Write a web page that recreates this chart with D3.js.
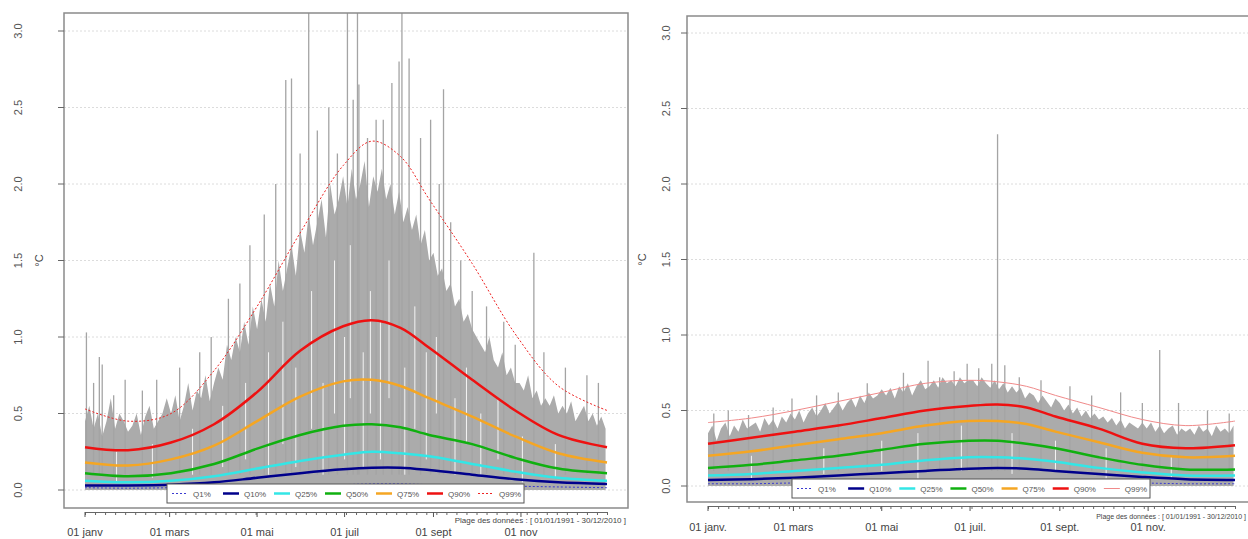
<!DOCTYPE html>
<html>
<head>
<meta charset="utf-8">
<script src="https://cdn.jsdelivr.net/npm/d3@7"></script>
<style>
  body { margin: 0; background: #fff; }
  svg { display: block; font-family: "Liberation Sans", Arial, sans-serif; }
</style>
</head>
<body>
<svg id="chart" width="1248" height="539"></svg>
<script>
// ---- data ----
// day-of-year at which the quantile curves were read
const qDays = [0, 30, 60, 90, 120, 150, 180, 200, 220, 240, 270, 300, 330, 364];

// left panel quantiles (°C)
const leftQ1  = [0.015,0.012,0.015,0.02,0.025,0.03,0.035,0.04,0.04,0.035,0.03,0.025,0.02,0.015];
const leftQ10 = [0.03,0.03,0.035,0.05,0.08,0.11,0.135,0.145,0.145,0.13,0.10,0.07,0.05,0.04];
const leftQ25 = [0.06,0.05,0.06,0.09,0.14,0.19,0.23,0.25,0.24,0.22,0.17,0.12,0.08,0.06];
const leftQ50 = [0.11,0.09,0.11,0.17,0.27,0.36,0.42,0.43,0.41,0.36,0.30,0.21,0.14,0.11];
const leftQ75 = [0.18,0.16,0.20,0.29,0.45,0.61,0.71,0.72,0.68,0.60,0.48,0.35,0.24,0.18];
const leftQ90 = [0.28,0.26,0.31,0.43,0.64,0.91,1.07,1.11,1.06,0.93,0.72,0.52,0.36,0.28];
const leftQ99 = [0.53,0.45,0.50,0.78,1.20,1.68,2.12,2.28,2.18,1.90,1.48,1.02,0.68,0.52];

// right panel quantiles (°C)
const rightQ1  = [0.015,0.015,0.02,0.02,0.025,0.03,0.03,0.035,0.03,0.03,0.025,0.02,0.015,0.015];
const rightQ10 = [0.04,0.045,0.055,0.07,0.085,0.10,0.115,0.12,0.115,0.10,0.08,0.06,0.045,0.04];
const rightQ25 = [0.07,0.08,0.10,0.12,0.14,0.17,0.19,0.19,0.18,0.16,0.12,0.09,0.07,0.07];
const rightQ50 = [0.12,0.14,0.17,0.20,0.24,0.28,0.30,0.30,0.28,0.25,0.19,0.14,0.11,0.11];
const rightQ75 = [0.20,0.23,0.27,0.31,0.35,0.40,0.43,0.43,0.41,0.36,0.29,0.22,0.19,0.20];
const rightQ90 = [0.28,0.32,0.36,0.40,0.45,0.50,0.53,0.54,0.52,0.46,0.38,0.28,0.25,0.27];
const rightQ99 = [0.42,0.45,0.50,0.56,0.62,0.68,0.70,0.69,0.66,0.60,0.52,0.44,0.40,0.43];

// daily values: dense upper envelope, one value every 3 days (day 0,3,...,363)
const leftEnvelope = [
  0.45,0.55,0.40,0.50,0.35,0.45,0.60,0.40,0.50,0.45,0.38,
  0.42,0.50,0.36,0.48,0.55,0.40,0.45,0.50,0.60,
  0.50,0.62,0.45,0.55,0.70,0.52,0.65,0.60,0.75,0.58,0.70,
  0.80,0.72,0.95,0.85,1.00,0.90,1.10,0.95,1.20,1.05,
  1.25,1.10,1.35,1.20,1.50,1.30,1.45,1.60,1.40,1.70,
  1.55,1.80,1.60,1.75,1.90,1.65,2.00,1.80,1.90,2.05,
  1.85,2.10,1.90,2.00,2.15,1.85,2.05,1.95,2.10,1.90,
  2.00,1.80,1.95,1.75,1.85,1.70,1.80,1.60,1.70,1.50,
  1.55,1.40,1.45,1.30,1.35,1.20,1.25,1.10,1.15,1.05,
  1.00,0.95,0.90,1.00,0.85,0.80,0.90,0.75,0.80,0.70,
  0.70,0.65,0.75,0.60,0.65,0.55,0.60,0.55,0.62,0.50,
  0.55,0.50,0.58,0.45,0.50,0.55,0.45,0.50,0.42,0.48,0.40
];
const rightEnvelope = [
  0.35,0.40,0.30,0.38,0.42,0.33,0.40,0.36,0.44,0.38,0.40,
  0.42,0.36,0.45,0.40,0.44,0.38,0.46,0.42,0.48,
  0.44,0.50,0.42,0.48,0.52,0.46,0.50,0.55,0.48,0.52,0.56,
  0.50,0.55,0.58,0.52,0.60,0.55,0.62,0.58,0.60,0.64,
  0.60,0.65,0.58,0.66,0.62,0.68,0.60,0.66,0.70,0.64,
  0.66,0.70,0.65,0.72,0.68,0.70,0.66,0.72,0.68,0.70,
  0.70,0.66,0.72,0.68,0.65,0.70,0.64,0.68,0.62,0.66,
  0.62,0.65,0.58,0.62,0.60,0.55,0.60,0.56,0.52,0.58,
  0.55,0.50,0.54,0.48,0.52,0.46,0.50,0.45,0.48,0.44,
  0.46,0.42,0.45,0.40,0.44,0.38,0.42,0.40,0.38,0.42,
  0.38,0.42,0.36,0.40,0.35,0.38,0.40,0.34,0.38,0.36,
  0.38,0.34,0.40,0.36,0.38,0.33,0.40,0.36,0.38,0.35,0.40
];

// isolated daily peaks [day, °C]
const leftSpikes = [[1,1.03],[6,0.70],[10,0.87],[12,0.82],[20,0.62],[28,0.72],[40,0.65],[50,0.72],
  [66,0.80],[80,0.90],[88,1.00],[100,1.25],[108,1.35],[115,1.60],[125,1.80],[133,2.00],[140,2.68],
  [144,2.69],[150,2.20],[156,3.20],[162,2.35],[170,2.50],[176,2.20],[183,3.20],[187,2.55],[190,3.20],
  [191,2.65],[197,2.30],[203,2.42],[208,2.42],[214,2.66],[219,2.80],[221,3.20],[226,2.82],[234,2.30],
  [241,2.42],[247,2.00],[250,2.62],[255,1.75],[262,1.50],[270,1.30],[280,1.20],[292,1.10],[300,0.95],
  [313,1.55],[320,0.90],[335,0.80],[350,0.75],[358,0.70]];
const rightSpikes = [[4,0.48],[14,0.50],[28,0.47],[45,0.52],[58,0.58],[75,0.60],[90,0.62],[110,0.68],
  [135,0.75],[152,0.83],[160,0.72],[170,0.76],[179,0.81],[187,0.78],[196,0.81],[200,2.33],[205,0.80],
  [215,0.72],[230,0.70],[250,0.66],[265,0.60],[285,0.62],[300,0.55],[312,0.90],[325,0.55],[345,0.50],[360,0.48]];

// light gaps inside the gray band [day, from °C, to °C]
const leftGaps = [[22,0.05,0.25],[47,0.08,0.3],[75,0.1,0.4],[96,0.15,0.55],[112,0.2,0.7],[128,0.1,0.9],
  [138,0.3,1.1],[147,0.15,0.8],[158,0.4,1.3],[166,0.1,0.7],[174,0.5,1.5],[181,0.2,1.0],[185,0.6,1.6],
  [194,0.15,0.9],[199,0.5,1.3],[206,0.2,1.1],[212,0.6,1.5],[223,0.1,0.8],[230,0.4,1.2],[238,0.2,0.9],
  [245,0.5,1.0],[258,0.1,0.6],[266,0.3,0.8],[276,0.1,0.5],[288,0.2,0.6],[305,0.05,0.35],[328,0.08,0.3]];
const rightGaps = [[30,0.05,0.2],[80,0.08,0.25],[120,0.1,0.3],[145,0.05,0.35],[175,0.1,0.4],[210,0.08,0.35],
  [240,0.1,0.3],[275,0.05,0.25],[320,0.05,0.2]];

const yTicks = [0, 0.5, 1.0, 1.5, 2.0, 2.5, 3.0];
const monthDays = [0, 59, 120, 181, 243, 304];
const leftMonthLabels = ["01 janv", "01 mars", "01 mai", "01 juil", "01 sept", "01 nov"];
const rightMonthLabels = ["01 janv.", "01 mars", "01 mai", "01 juil.", "01 sept.", "01 nov."];
const legendLabels = ["Q1%", "Q10%", "Q25%", "Q50%", "Q75%", "Q90%", "Q99%"];
const rangeNote = "Plage des données : [ 01/01/1991 - 30/12/2010 ]";

// quantile styles
const qStyle = [
  { color: "#3b3bd0", width: 1, dash: "2,2" },
  { color: "#00008b", width: 2.5, dash: null },
  { color: "#33e6e6", width: 2.5, dash: null },
  { color: "#10b010", width: 2.5, dash: null },
  { color: "#f5a623", width: 2.5, dash: null },
  { color: "#ee1111", width: 2.5, dash: null },
  { color: "#ee2222", width: 1, dash: "2,2" }
];

const svg = d3.select("#chart");

function drawPanel(p) {
  const g = svg.append("g");

  let x = d3.scaleLinear().domain([0, 364]).range(p.xRange);
  let y = d3.scaleLinear().domain([0, 3]).range(p.yRange);

  const clipId = "clip" + p.id;
  svg.append("clipPath").attr("id", clipId)
    .append("rect")
    .attr("x", p.frame.x0).attr("y", p.frame.y0)
    .attr("width", p.frame.x1 - p.frame.x0).attr("height", p.frame.y1 - p.frame.y0);

  // grid
  g.selectAll(".grid").data(yTicks).enter()
    .append("line")
    .attr("x1", p.frame.x0).attr("x2", p.frame.x1)
    .attr("y1", d => y(d)).attr("y2", d => y(d))
    .style("stroke", "#dcdcdc").style("stroke-dasharray", "2,2");

  const plot = g.append("g").attr("clip-path", `url(#${clipId})`);

  // gray daily values
  const env = p.envelope.map((v, i) => [i * 3, v]);
  plot.append("path")
    .datum(env)
    .attr("d", d3.area().x(d => x(d[0])).y0(y(0)).y1(d => y(d[1])))
    .style("fill", "#ababab");

  plot.selectAll(".spike").data(p.spikes).enter()
    .append("line")
    .attr("x1", d => x(d[0])).attr("x2", d => x(d[0]))
    .attr("y1", y(0.1)).attr("y2", d => y(d[1]))
    .style("stroke", "#a4a4a4").style("stroke-width", 1.3);

  plot.selectAll(".gap").data(p.gaps).enter()
    .append("line")
    .attr("x1", d => x(d[0])).attr("x2", d => x(d[0]))
    .attr("y1", d => y(d[1])).attr("y2", d => y(d[2]))
    .style("stroke", "#f4f4f4").style("stroke-width", 1);

  // quantile curves
  let line = d3.line().x(d => x(d[0])).y(d => y(d[1])).curve(d3.curveCatmullRom);
  p.quantiles.forEach(function(q, i) {
    const st = p.styles[i];
    plot.append("path")
      .datum(qDays.map((d, j) => [d, q[j]]))
      .attr("d", line)
      .style("fill", "none")
      .style("stroke", st.color)
      .style("stroke-width", st.width)
      .style("stroke-dasharray", st.dash);
  });

  // frame
  g.append("rect")
    .attr("x", p.frame.x0).attr("y", p.frame.y0)
    .attr("width", p.frame.x1 - p.frame.x0).attr("height", p.frame.y1 - p.frame.y0)
    .style("fill", "none").style("stroke", "#8a8a8a").style("stroke-width", 1.5);

  // y axis
  g.selectAll(".ytick").data(yTicks).enter()
    .append("line")
    .attr("x1", p.frame.x0 - 6).attr("x2", p.frame.x0)
    .attr("y1", d => y(d)).attr("y2", d => y(d))
    .style("stroke", "#666");
  g.selectAll(".ylab").data(yTicks).enter()
    .append("text")
    .attr("transform", d => `translate(${p.yLabelX}, ${y(d)}) rotate(-90)`)
    .attr("text-anchor", "middle")
    .style("font-size", "11px").style("fill", "#555")
    .text(d => d3.format(".1f")(d));
  g.append("text")
    .attr("transform", `translate(${p.unitX}, ${(p.yRange[0] + p.yRange[1]) / 2}) rotate(-90)`)
    .attr("text-anchor", "middle")
    .style("font-size", "11px").style("fill", "#444")
    .text("°C");

  // x axis
  const xAxis = g.append("g").attr("transform", `translate(0, ${p.frame.y1 + 4})`);
  xAxis.call(d3.axisBottom(x).tickValues(d3.range(0, 365, 7)).tickSize(3).tickFormat(""));
  xAxis.select(".domain").style("stroke", "#666");
  xAxis.selectAll(".tick line").style("stroke", "#666");
  g.selectAll(".mtick").data(monthDays).enter()
    .append("line")
    .attr("x1", d => x(d)).attr("x2", d => x(d))
    .attr("y1", p.frame.y1 + 4).attr("y2", p.frame.y1 + 9)
    .style("stroke", "#555");
  g.selectAll(".xlab").data(monthDays).enter()
    .append("text")
    .attr("x", d => x(d)).attr("y", p.xLabelY)
    .attr("text-anchor", "middle")
    .style("font-size", "11px").style("fill", "#444")
    .text((d, i) => p.monthLabels[i]);

  g.append("text")
    .attr("x", p.noteX).attr("y", p.noteY)
    .attr("text-anchor", p.noteAnchor)
    .style("font-size", p.noteSize).style("fill", "#444")
    .text(rangeNote);

  // legend
  const lg = g.append("g");
  lg.append("rect")
    .attr("x", p.legend.x0).attr("y", p.legend.y0)
    .attr("width", p.legend.x1 - p.legend.x0).attr("height", p.legend.h)
    .style("fill", "#fff").style("stroke", "#555");
  const step = (p.legend.x1 - p.legend.x0) / legendLabels.length;
  legendLabels.forEach(function(lab, i) {
    const st = p.styles[i];
    const lx = p.legend.x0 + 5 + i * step;
    const ly = p.legend.y0 + p.legend.h / 2;
    lg.append("line")
      .attr("x1", lx).attr("x2", lx + 16).attr("y1", ly).attr("y2", ly)
      .style("stroke", st.color)
      .style("stroke-width", st.width)
      .style("stroke-dasharray", st.dash);
    lg.append("text")
      .attr("x", lx + 21).attr("y", ly + 3)
      .style("font-size", "8px").style("fill", "#555")
      .text(lab);
  });
}

drawPanel({
  id: "L",
  xRange: [85, 607], yRange: [490, 31],
  frame: { x0: 64, y0: 13, x1: 628, y1: 508 },
  yLabelX: 22, unitX: 43,
  xLabelY: 536, monthLabels: leftMonthLabels,
  noteX: 626, noteY: 523, noteAnchor: "end", noteSize: "8px",
  legend: { x0: 167, x1: 524, y0: 484, h: 19 },
  envelope: leftEnvelope, spikes: leftSpikes, gaps: leftGaps,
  styles: qStyle,
  quantiles: [leftQ1, leftQ10, leftQ25, leftQ50, leftQ75, leftQ90, leftQ99]
});

drawPanel({
  id: "R",
  xRange: [708, 1235], yRange: [486, 33],
  frame: { x0: 687, y0: 16, x1: 1258, y1: 502 },
  yLabelX: 670, unitX: 646,
  xLabelY: 531, monthLabels: rightMonthLabels,
  noteX: 1246, noteY: 519, noteAnchor: "end", noteSize: "7px",
  legend: { x0: 792, x1: 1150, y0: 479, h: 19 },
  envelope: rightEnvelope, spikes: rightSpikes, gaps: rightGaps,
  styles: qStyle.slice(0, 6).concat([{ color: "#f08a8a", width: 1, dash: null }]),
  quantiles: [rightQ1, rightQ10, rightQ25, rightQ50, rightQ75, rightQ90, rightQ99]
});
</script>
</body>
</html>
